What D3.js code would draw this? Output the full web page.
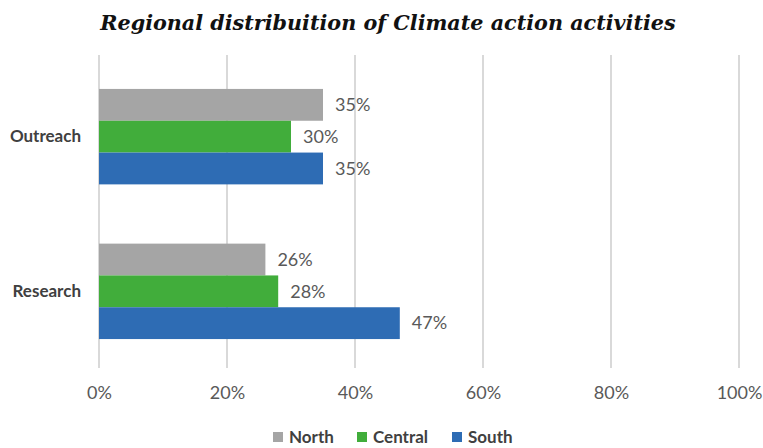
<!DOCTYPE html>
<html>
<head>
<meta charset="utf-8">
<script src="https://cdn.jsdelivr.net/npm/d3@7/dist/d3.min.js"></script>
<style>
  html, body { margin: 0; padding: 0; background: #ffffff; }
  svg { display: block; }
</style>
</head>
<body>
<div id="chart"></div>
<script>
// Share of climate action activities per region, by activity type
const categories = ["Outreach", "Research"];
const seriesNames = ["North", "Central", "South"];
const north = [35, 26];
const central = [30, 28];
const south = [35, 47];
const xTicks = [0, 20, 40, 60, 80, 100];
const colors = ["#a5a5a5", "#41ad3b", "#2e6cb4"];

const seriesValues = [north, central, south];

const width = 763, height = 448;
const margin = { top: 55, right: 24, bottom: 80, left: 99 };
const labelFont = "Lato, 'Open Sans', sans-serif";

const svg = d3.select("#chart").append("svg")
  .attr("width", width)
  .attr("height", height);

const x = d3.scaleLinear()
  .domain([0, 100])
  .range([margin.left, 739]);

const y0 = d3.scaleBand()
  .domain(categories)
  .range([58, 370])
  .paddingInner(0.383)
  .paddingOuter(0.2);

const y1 = d3.scaleBand()
  .domain(seriesNames)
  .range([0, y0.bandwidth()]);

// Title
svg.append("text")
  .attr("x", 388)
  .attr("y", 30)
  .attr("text-anchor", "middle")
  .style("font-family", "'DejaVu Serif', 'Liberation Serif', serif")
  .style("font-style", "italic")
  .style("font-weight", "bold")
  .style("font-size", "20.7px")
  .attr("fill", "#111")
  .text("Regional distribuition of Climate action activities");

// Vertical gridlines
svg.append("g")
  .selectAll("line")
  .data(xTicks)
  .join("line")
  .attr("x1", d => x(d))
  .attr("x2", d => x(d))
  .attr("y1", margin.top)
  .attr("y2", 368)
  .attr("stroke", "#d9d9d9")
  .attr("stroke-width", 2);

// X axis tick labels
const xAxis = d3.axisBottom(x)
  .tickValues(xTicks)
  .tickFormat(d => d + "%")
  .tickSize(0)
  .tickPadding(0);

const gx = svg.append("g")
  .attr("transform", "translate(0,386)")
  .call(xAxis);
gx.select(".domain").remove();
gx.selectAll("text")
  .style("font-family", labelFont)
  .style("font-size", "18px")
  .attr("fill", "#595959")
  .attr("dy", "0.71em");

// Category labels
const yAxis = d3.axisLeft(y0).tickSize(0).tickPadding(18);
const gy = svg.append("g")
  .attr("transform", `translate(${margin.left},0)`)
  .call(yAxis);
gy.select(".domain").remove();
gy.selectAll("text")
  .style("font-family", labelFont)
  .style("font-size", "17px")
  .style("font-weight", "bold")
  .attr("fill", "#404040");

// Bars with value labels
const groups = svg.append("g")
  .selectAll("g")
  .data(categories)
  .join("g")
  .attr("transform", d => `translate(0,${y0(d)})`);

groups.selectAll("rect")
  .data((c, i) => seriesNames.map((s, k) => ({ s, v: seriesValues[k][i], k })))
  .join("rect")
  .attr("x", x(0))
  .attr("y", d => y1(d.s))
  .attr("width", d => x(d.v) - x(0))
  .attr("height", y1.bandwidth())
  .attr("fill", d => colors[d.k]);

groups.selectAll("text")
  .data((c, i) => seriesNames.map((s, k) => ({ s, v: seriesValues[k][i], k })))
  .join("text")
  .attr("x", d => x(d.v) + 12)
  .attr("y", d => y1(d.s) + y1.bandwidth() / 2)
  .attr("dy", "0.35em")
  .style("font-family", labelFont)
  .style("font-size", "18px")
  .attr("fill", "#595959")
  .text(d => d.v + "%");

// Legend
const legendX = [273, 357, 452];
const legend = svg.append("g")
  .selectAll("g")
  .data(seriesNames)
  .join("g")
  .attr("transform", (d, i) => `translate(${legendX[i]},437)`);

legend.append("rect")
  .attr("x", 0)
  .attr("y", -5)
  .attr("width", 10)
  .attr("height", 10)
  .attr("fill", (d, i) => colors[i]);

legend.append("text")
  .attr("x", 16)
  .attr("y", 0)
  .attr("dy", "0.35em")
  .style("font-family", labelFont)
  .style("font-size", "17px")
  .style("font-weight", "bold")
  .attr("fill", "#404040")
  .text(d => d);
</script>
</body>
</html>
